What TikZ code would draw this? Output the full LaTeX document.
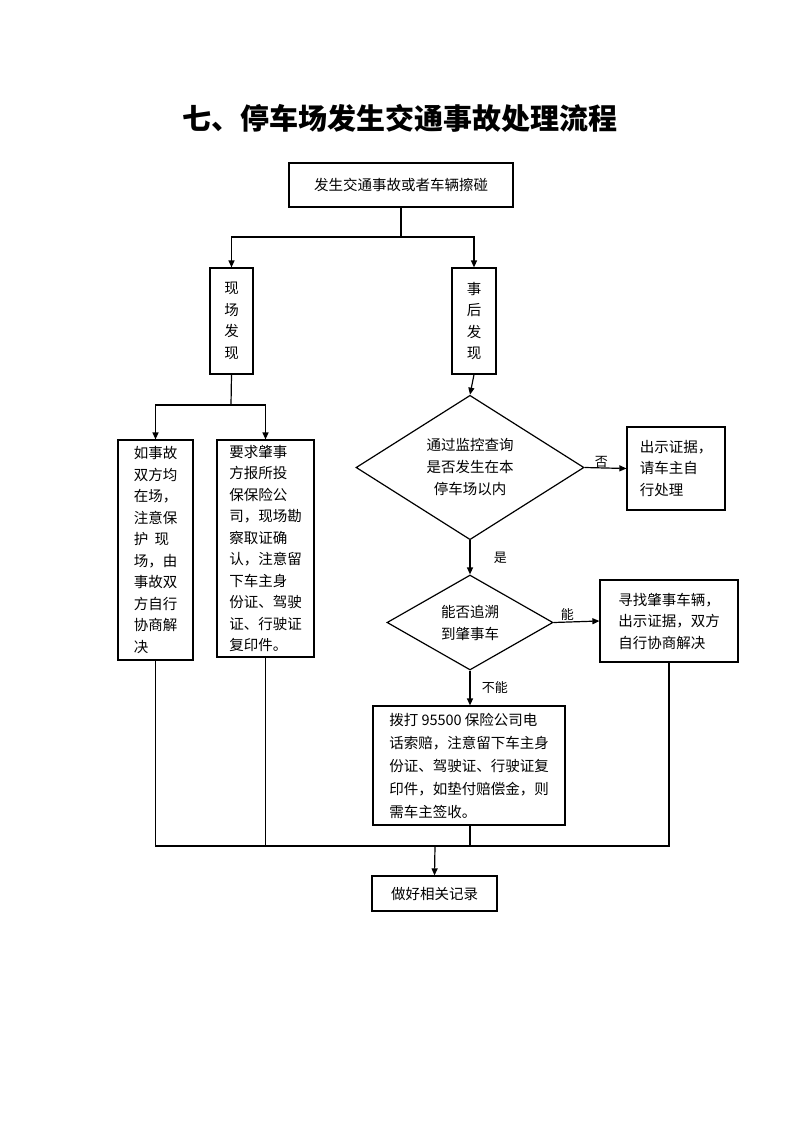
\documentclass[tikz,border=0pt]{standalone}
\usepackage{fontspec}
\setmainfont{Noto Sans CJK SC}
\usetikzlibrary{shapes.geometric,arrows.meta}
\begin{document}
\begin{tikzpicture}[x=1pt,y=-1pt,
  ln/.style={line width=1.2pt},
  ar/.style={ln,-{Triangle[length=7pt,width=6pt]}},
  box/.style={draw,line width=1.2pt,inner sep=0pt,align=left,font=\fontsize{14.5}{21.5}\selectfont},
  dia/.style={draw,diamond,line width=1.2pt,inner sep=0pt,align=center,font=\fontsize{14.5}{22}\selectfont},
  lab/.style={font=\fontsize{13}{15}\selectfont}]
\useasboundingbox (0,0) rectangle (800,1132);
\node[font=\bfseries\fontsize{29}{32}\selectfont] (title) at (400,118) {七、停车场发生交通事故处理流程};
\node[box,minimum width=224pt,minimum height=44pt] (b1) at (401,185) {发生交通事故或者车辆擦碰};
\node[box,minimum width=43pt,minimum height=106pt,align=center] (xc) at (231.5,321) {现\\场\\发\\现};
\node[box,minimum width=44pt,minimum height=106pt,align=center] (sh) at (474,321) {事\\后\\发\\现};
\node[box,minimum width=75pt,minimum height=220pt] (l1) at (155.5,550) {如事故\\双方均\\在场，\\注意保\\护\ \ 现\\场，由\\事故双\\方自行\\协商解\\决};
\node[box,minimum width=97pt,minimum height=217pt] (l2) at (265.5,548.5) {要求肇事\\方报所投\\保保险公\\司，现场勘\\察取证确\\认，注意留\\下车主身\\份证、驾驶\\证、行驶证\\复印件。};
\node[dia,minimum width=228pt,minimum height=125pt] (d1) at (470,467.5) {通过监控查询\\是否发生在本\\停车场以内};
\node[box,minimum width=98pt,minimum height=83pt] (r1) at (676,468.5) {出示证据，\\请车主自\\行处理};
\node[dia,minimum width=166pt,minimum height=95pt] (d2) at (470,622.5) {能否追溯\\到肇事车};
\node[box,minimum width=138pt,minimum height=82pt] (r2) at (669,621) {寻找肇事车辆，\\出示证据，双方\\自行协商解决};
\node[box,minimum width=192pt,minimum height=119pt,font=\fontsize{14.5}{23}\selectfont] (b2) at (469,765.5) {拨打 95500 保险公司电\\话索赔，注意留下车主身\\份证、驾驶证、行驶证复\\印件，如垫付赔偿金，则\\需车主签收。};
\node[box,minimum width=125pt,minimum height=35pt] (fin) at (434.5,893.5) {做好相关记录};
\coordinate (j1) at (401,237);
\coordinate (j2) at (231,405);
\coordinate (j3) at (435,846);
\draw[ln] (b1.south) -- (j1);
\draw[ar] (j1) -| (xc.north);
\draw[ar] (j1) -| (sh.north);
\draw[ln] (xc.south) -- (j2);
\draw[ar] (j2) -| (l1.north);
\draw[ar] (j2) -| (l2.north);
\draw[ar] (sh.south) -- (d1.north);
\draw[ar] (d1.east) -- node[lab,above,pos=0.4,yshift=-4pt] {否} (r1.west);
\draw[ar] (d1.south) -- node[lab,right,xshift=20pt] {是} (d2.north);
\draw[ar] (d2.east) -- node[lab,above,pos=0.3,yshift=-2pt] {能} (r2.west);
\draw[ar] (d2.south) -- node[lab,right,xshift=8pt] {不能} (b2.north -| d2.south);
\draw[ln] (l1.south) |- (j3) -| (r2.south);
\draw[ln] (l2.south) -- (l2.south |- j3);
\draw[ln] (b2.south -| d2.south) -- (d2.south |- j3);
\draw[ar] (j3) -- (fin.north);
\end{tikzpicture}
\end{document}
